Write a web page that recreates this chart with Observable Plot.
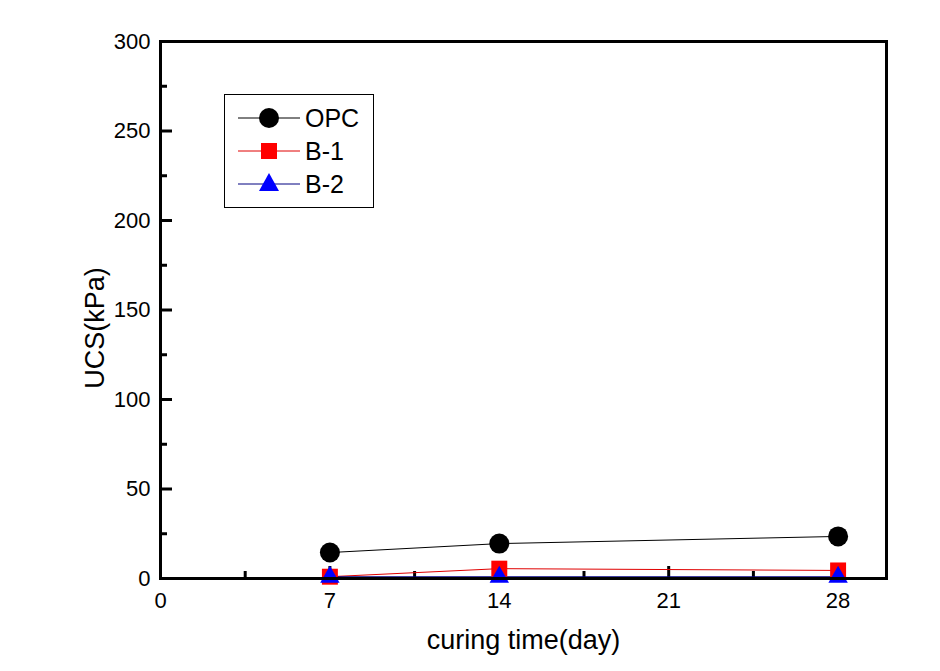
<!DOCTYPE html>
<html><head><meta charset="utf-8">
<script src="https://cdn.jsdelivr.net/npm/d3@7"></script>
<script src="https://cdn.jsdelivr.net/npm/@observablehq/plot@0.6"></script>
<style>
body{margin:0;background:#fff}
#wrap{position:relative;width:940px;height:671px;font-family:"Liberation Sans",Arial,sans-serif}
#legend{position:absolute;left:224px;top:94px}
</style>
</head><body><div id="wrap"></div>
<script>
const days = [7, 14, 28];
const opc = [14.5, 19.5, 23.5];
const b1 = [1, 5.5, 4.5];
const b2 = [0.8, 0.8, 0.8];
const seriesNames = ["OPC", "B-1", "B-2"];
const seriesColors = ["#000000", "#ff0000", "#0000ff"];
const lineColors = ["#000000", "#e00000", "#000080"];
const xMajor = [0, 7, 14, 21, 28];
const xMinor = [3.5, 10.5, 17.5, 24.5];
const yMajor = [0, 50, 100, 150, 200, 250, 300];
const yMinor = [25, 75, 125, 175, 225, 275];

const mL = 160, mR = 54, mT = 41, mB = 93, W = 940, H = 671;
const pw = W - mL - mR, ph = H - mT - mB;

const rows = (vals) => days.map((d, i) => ({day: d, v: vals[i]}));
const dOPC = rows(opc), dB1 = rows(b1), dB2 = rows(b2);

const chart = Plot.plot({
  width: W, height: H,
  marginLeft: mL, marginRight: mR, marginTop: mT, marginBottom: mB,
  x: {domain: [0, 30], axis: null},
  y: {domain: [0, 300], axis: null},
  style: {fontFamily: '"Liberation Sans", Arial, sans-serif', fontSize: "22px", color: "#000", background: "#fff"},
  marks: [
    Plot.text(xMajor, {x: d => d, text: d => String(d), frameAnchor: "bottom", dy: 14, lineAnchor: "top", fontSize: 22, fill: "#000"}),
    Plot.text(yMajor, {y: d => d, text: d => String(d), frameAnchor: "left", dx: -10, textAnchor: "end", lineAnchor: "middle", fontSize: 22, fill: "#000"}),
    Plot.ruleX(xMajor, {x: d => d, insetTop: ph - 12, strokeWidth: 3}),
    Plot.ruleX(xMinor, {x: d => d, insetTop: ph - 7, strokeWidth: 3}),
    Plot.ruleY(yMajor, {y: d => d, insetRight: pw - 12, strokeWidth: 3}),
    Plot.ruleY(yMinor, {y: d => d, insetRight: pw - 7, strokeWidth: 3}),
    Plot.lineY(dOPC, {x: "day", y: "v", stroke: lineColors[0], strokeWidth: 1}),
    Plot.lineY(dB1, {x: "day", y: "v", stroke: lineColors[1], strokeWidth: 1}),
    Plot.lineY(dB2, {x: "day", y: "v", stroke: lineColors[2], strokeWidth: 1.5}),
    Plot.dot(dOPC, {x: "day", y: "v", symbol: "circle", r: 10, fill: seriesColors[0], stroke: null}),
    Plot.dot(dB1, {x: "day", y: "v", symbol: "square", r: 9, fill: seriesColors[1], stroke: null}),
    Plot.dot(dB2, {x: "day", y: "v", symbol: "triangle", r: 7.2, fill: seriesColors[2], stroke: null}),
    Plot.frame({stroke: "#000", strokeWidth: 3}),
    Plot.text(["curing time(day)"], {frameAnchor: "bottom", dy: 62, fontSize: 27, textAnchor: "middle", lineAnchor: "middle"}),
    Plot.text(["UCS(kPa)"], {frameAnchor: "left", dx: -65, dy: 18, rotate: -90, fontSize: 27, textAnchor: "middle", lineAnchor: "middle"})
  ]
});
const wrap = document.getElementById("wrap");
wrap.appendChild(chart);

// legend
const ns = "http://www.w3.org/2000/svg";
const lg = document.createElementNS(ns, "svg");
lg.setAttribute("id", "legend");
lg.setAttribute("width", 150);
lg.setAttribute("height", 114);
let html = `<rect x="0.5" y="0.5" width="149" height="113" fill="#fff" stroke="#000" stroke-width="1"/>`;
const shapes = [
  (cx, cy, c) => `<circle cx="${cx}" cy="${cy}" r="10" fill="${c}"/>`,
  (cx, cy, c) => `<rect x="${cx-8}" y="${cy-8}" width="16" height="16" fill="${c}"/>`,
  (cx, cy, c) => `<path d="M${cx},${cy-11}L${cx+10},${cy+7}L${cx-10},${cy+7}Z" fill="${c}"/>`
];
seriesNames.forEach((name, i) => {
  const cy = 24 + i * 33;
  html += `<line x1="14" x2="76" y1="${cy}" y2="${cy}" stroke="${lineColors[i]}" stroke-width="1"/>`;
  html += shapes[i](45, cy, seriesColors[i]);
  html += `<text x="81" y="${cy}" dy="0.36em" font-size="25" font-family="Liberation Sans, Arial, sans-serif" fill="#000">${name}</text>`;
});
lg.innerHTML = html;
wrap.appendChild(lg);
</script>
</body></html>
